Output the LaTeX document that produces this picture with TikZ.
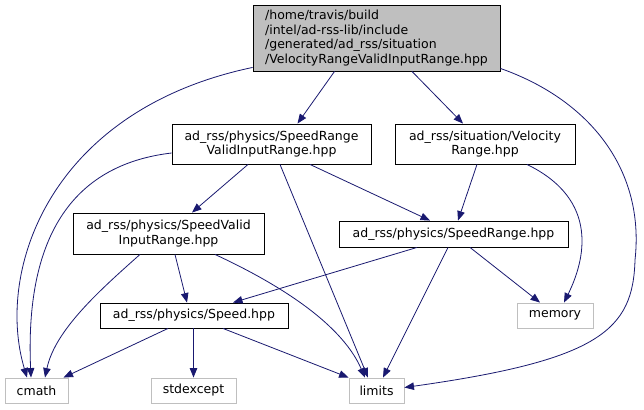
\documentclass[tikz,border=0pt]{standalone}
\usepackage{fontspec}
\setmainfont{DejaVu Sans}
\usetikzlibrary{arrows.meta}
\definecolor{edgeblue}{HTML}{191970}
\definecolor{boxgray}{HTML}{BFBFBF}
\begin{document}
\begin{tikzpicture}[x=1pt,y=-1pt,
  filebox/.style={draw=black,line width=0.9pt,rectangle,inner sep=0pt,fill=white,
    font=\fontsize{12.5}{14.5}\selectfont,align=center},
  sysbox/.style={filebox,draw=boxgray},
  dep/.style={draw=edgeblue,line width=0.8pt,-{Triangle[length=9.5pt,width=7.5pt]},fill=none}]
\useasboundingbox (0,0) rectangle (644,409);
\fill[white] (0,0) rectangle (644,409);
\node[filebox,fill=boxgray,align=left,minimum width=247pt,minimum height=66pt] (top) at (376.5,38)
  {/home/travis/build\\/intel/ad-rss-lib/include\\/generated/ad\_rss/situation\\/VelocityRangeValidInputRange.hpp};
\node[filebox,minimum width=199pt,minimum height=40pt] (srvir) at (271.5,144) {ad\_rss/physics/SpeedRange\\ValidInputRange.hpp};
\node[filebox,minimum width=180pt,minimum height=40pt] (vr) at (485,144) {ad\_rss/situation/Velocity\\Range.hpp};
\node[filebox,minimum width=191pt,minimum height=41pt] (svir) at (168.5,233.5) {ad\_rss/physics/SpeedValid\\InputRange.hpp};
\node[filebox,minimum width=229pt,minimum height=26pt] (sr) at (453.5,234) {ad\_rss/physics/SpeedRange.hpp};
\node[filebox,minimum width=188pt,minimum height=25pt] (speed) at (194,315.5) {ad\_rss/physics/Speed.hpp};
\node[sysbox,minimum width=76pt,minimum height=25pt] (memory) at (555,315.5) {memory};
\node[sysbox,minimum width=63pt,minimum height=25pt] (cmath) at (36.5,390.5) {cmath};
\node[sysbox,minimum width=85pt,minimum height=25pt] (stdexcept) at (193.5,390.5) {stdexcept};
\node[sysbox,minimum width=55pt,minimum height=25pt] (limits) at (376.5,390.5) {limits};
% edges from top
\draw[dep] ([yshift=4pt]top.south west) .. controls (50,110) and (-5,270) .. ([xshift=-9.5pt]cmath.north);
\draw[dep] ([xshift=-42pt]top.south) -- ([xshift=26pt]srvir.north);
\draw[dep] ([xshift=35.5pt]top.south) -- ([xshift=-22pt]vr.north);
\draw[dep] ([yshift=3pt]top.south east) .. controls (590,100) and (645,170) .. (635,260)
  .. controls (633,330) and (600,360) .. ([yshift=3pt]limits.east);
% from SpeedRangeValidInputRange
\draw[dep] ([yshift=-9pt]srvir.west) .. controls (70,165) and (25,240) .. ([xshift=-5.5pt]cmath.north);
\draw[dep] ([xshift=-23.5pt]srvir.south) -- ([xshift=23.5pt]svir.north);
\draw[dep] ([xshift=8.5pt]srvir.south) -- ([xshift=-8.5pt]limits.north);
\draw[dep] ([xshift=38.5pt]srvir.south) -- ([xshift=-23.5pt]sr.north);
% from VelocityRange
\draw[dep] ([xshift=-8pt]vr.south) -- ([xshift=4.5pt]sr.north);
\draw[dep] ([xshift=42pt]vr.south) .. controls (600,200) and (585,260) .. ([xshift=9pt]memory.north);
% from SpeedValidInputRange
\draw[dep] ([xshift=6.5pt]svir.south) -- ([xshift=-7pt]speed.north);
\draw[dep] ([xshift=-28.5pt]svir.south) .. controls (100,290) and (55,330) .. ([xshift=8.5pt]cmath.north);
\draw[dep] ([xshift=46.5pt]svir.south) .. controls (270,280) and (340,320) .. ([xshift=-11.5pt]limits.north);
% from SpeedRange
\draw[dep] ([xshift=-36.5pt]sr.south) -- ([xshift=39pt]speed.north);
\draw[dep] ([xshift=16.5pt]sr.south) -- ([xshift=-15pt]memory.north);
\draw[dep] ([xshift=-5.5pt]sr.south) -- ([xshift=6.5pt]limits.north);
% from Speed
\draw[dep] ([xshift=-26pt]speed.south) -- ([xshift=27pt]cmath.north);
\draw[dep] ([xshift=-0.5pt]speed.south) -- (stdexcept.north);
\draw[dep] ([xshift=29pt]speed.south) -- (limits.north west);
\end{tikzpicture}
\end{document}
